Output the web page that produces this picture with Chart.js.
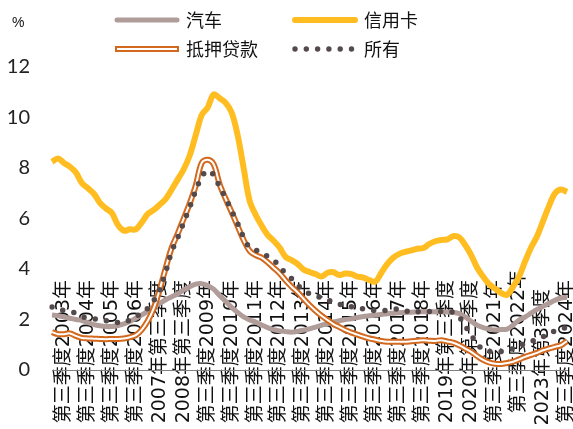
<!DOCTYPE html>
<html>
<head>
<meta charset="utf-8">
<script src="https://cdn.jsdelivr.net/npm/chart.js@4/dist/chart.umd.min.js"></script>
<style>
  html, body { margin: 0; padding: 0; background: #fff; }
  #wrap { width: 573px; height: 429px; position: relative; }
</style>
</head>
<body>
<div id="wrap"><canvas id="chart" width="573" height="429"></canvas></div>
<script>
// Quarterly categories, 2003 Q1 .. 2024 Q3
const years = [2003, 2004, 2005, 2006, 2007, 2008, 2009, 2010, 2011, 2012, 2013,
  2014, 2015, 2016, 2017, 2018, 2019, 2020, 2021, 2022, 2023, 2024];
const quarterNames = ["第一季度", "第二季度", "第三季度", "第四季度"];
const categories = [];
years.forEach(y => quarterNames.forEach((q, i) => {
  if (y < 2024 || i < 3) categories.push(y + "年" + q);
}));

// Axis labels as they appear under each Q3 tick
const tickLabels = [
  "第三季度2003年", "第三季度2004年", "第三季度2005年", "第三季度2006年",
  "2007年第三季度", "2008年第三季度", "第三季度2009年", "第三季度2010年",
  "第三季度2011年", "第三季度2012年", "第三季度2013年", "第三季度2014年",
  "第三季度2015年", "第三季度2016年", "第三季度2017年", "第三季度2018年",
  "2019年第三季度", "2020年第三季度", "第三季度2021年", "第三季度2022年",
  "2023年第3季度", "第三季度2024年"
];
const yTicks = [0, 2, 4, 6, 8, 10, 12];

// Series values (%)
const auto = [
  2.18, 2.15, 2.1, 2.05, 2.0, 1.96, 1.88, 1.8, 1.75, 1.72,
  1.72, 1.76, 1.83, 1.92, 2.05, 2.18, 2.33, 2.5, 2.64, 2.78,
  2.9, 3.02, 3.17, 3.3, 3.4, 3.42, 3.35, 3.2, 2.95, 2.72,
  2.48, 2.28, 2.1, 1.98, 1.9, 1.78, 1.68, 1.6, 1.55, 1.52,
  1.5, 1.53, 1.58, 1.63, 1.7, 1.77, 1.84, 1.9, 1.95, 2.0,
  2.03, 2.08, 2.12, 2.15, 2.18, 2.2, 2.23, 2.25, 2.27, 2.28,
  2.29, 2.3, 2.31, 2.31, 2.31, 2.31, 2.3, 2.28, 2.23, 2.1,
  1.93, 1.77, 1.68, 1.62, 1.58, 1.6, 1.62, 1.78, 1.98, 2.1,
  2.25, 2.4, 2.52, 2.64, 2.76, 2.85, 2.88
];
const creditCard = [
  8.24, 8.38, 8.2, 8.05, 7.82, 7.4, 7.2, 6.98, 6.62, 6.4,
  6.22, 5.75, 5.52, 5.57, 5.57, 5.85, 6.18, 6.34, 6.55, 6.78,
  7.15, 7.55, 7.95, 8.5, 9.3, 10.1, 10.4, 10.92, 10.76, 10.58,
  10.2, 9.3, 8.0, 6.7, 6.15, 5.72, 5.35, 5.12, 4.85, 4.48,
  4.35, 4.2, 3.98, 3.88, 3.8, 3.7, 3.85, 3.87, 3.76, 3.82,
  3.8, 3.7, 3.66, 3.56, 3.5, 3.85, 4.2, 4.45, 4.6, 4.68,
  4.74, 4.8, 4.83, 4.99, 5.1, 5.15, 5.17, 5.3, 5.25, 4.95,
  4.55, 4.05, 3.7, 3.4, 3.22, 3.05, 2.98, 3.3, 3.7, 4.3,
  4.85, 5.3, 5.9, 6.5, 7.0, 7.15, 7.05
];
const mortgage = [
  1.5, 1.42, 1.42, 1.45, 1.35, 1.27, 1.25, 1.24, 1.23, 1.22,
  1.23, 1.23, 1.25, 1.3, 1.38, 1.6, 1.95, 2.45, 3.2, 4.05,
  4.85, 5.4, 6.0, 6.6, 7.3, 8.2, 8.33, 8.15, 7.35, 6.78,
  6.25, 5.7, 5.15, 4.72, 4.55, 4.45, 4.27, 4.05, 3.83, 3.55,
  3.3, 3.08, 2.82, 2.57, 2.35, 2.15, 1.98, 1.82, 1.7, 1.58,
  1.48, 1.4, 1.32, 1.25, 1.2, 1.15, 1.12, 1.12, 1.12, 1.12,
  1.14, 1.16, 1.18, 1.16, 1.15, 1.18, 1.13, 1.08, 0.98, 0.85,
  0.72, 0.55, 0.4, 0.3, 0.25, 0.24, 0.28, 0.33, 0.42, 0.52,
  0.6, 0.68, 0.78, 0.85, 0.92, 0.98, 1.15
];
const allLoans = [
  2.5, 2.42, 2.35, 2.3, 2.25, 2.12, 2.05, 2.03, 2.0, 1.95,
  1.9, 1.88, 1.87, 1.98, 2.12, 2.25, 2.45, 2.75, 3.2, 3.9,
  4.7, 5.25, 5.85, 6.45, 7.1, 7.65, 7.9, 7.72, 7.25, 6.8,
  6.3, 5.8, 5.25, 4.85, 4.75, 4.65, 4.5, 4.35, 4.1, 3.82,
  3.62, 3.35, 3.2, 3.02, 2.95, 2.85, 2.78, 2.68, 2.6, 2.55,
  2.5, 2.45, 2.42, 2.38, 2.35, 2.35, 2.36, 2.4, 2.42, 2.35,
  2.27, 2.3, 2.32, 2.32, 2.32, 2.32, 2.31, 2.28, 2.1, 1.75,
  1.38, 1.05, 0.8, 0.74, 0.72, 0.73, 0.76, 0.85, 0.95, 1.05,
  1.13, 1.22, 1.32, 1.45, 1.55, 1.63, 1.68
];

const GRAY = "#b09c99";
const GOLD = "#ffbd21";
const ORANGE = "#d2691e";
const DOTS = "#54494b";
const LABEL_FONT = '19px "DejaVu Sans", "Noto Sans CJK SC", sans-serif';
const CJK_FONT = '18px "Noto Sans CJK SC", sans-serif';

// Rotated category labels, drawn under the axis line and the series
const xLabelsPlugin = {
  id: "xLabels",
  beforeDraw(chart) {
    const ctx = chart.ctx;
    const x = chart.scales.x;
    const nudge = { 19: -10, 20: 9 };
    ctx.save();
    ctx.fillStyle = "#fff";
    ctx.fillRect(0, 0, chart.width, chart.height);
    ctx.fillStyle = "#111";
    ctx.font = LABEL_FONT;
    ctx.textAlign = "right";
    ctx.textBaseline = "middle";
    tickLabels.forEach((t, k) => {
      const px = x.getPixelForValue(2 + k * 4);
      ctx.save();
      ctx.translate(px, 280 + (nudge[k] || 0));
      ctx.rotate(-Math.PI / 2);
      ctx.fillText(t, 0, 0);
      ctx.restore();
    });
    ctx.restore();
  }
};

// Two-column legend and the % unit
const legendPlugin = {
  id: "legendGrid",
  afterDraw(chart) {
    const ctx = chart.ctx;
    const items = [
      { text: "汽车", x: 115, y: 20, kind: "gray" },
      { text: "信用卡", x: 293, y: 20, kind: "gold" },
      { text: "抵押贷款", x: 115, y: 49, kind: "double" },
      { text: "所有", x: 293, y: 49, kind: "dots" }
    ];
    ctx.save();
    items.forEach(it => {
      ctx.beginPath();
      ctx.lineCap = "round";
      if (it.kind === "gray" || it.kind === "gold") {
        ctx.strokeStyle = it.kind === "gray" ? GRAY : GOLD;
        ctx.lineWidth = it.kind === "gray" ? 5 : 6;
        ctx.moveTo(it.x + 2, it.y);
        ctx.lineTo(it.x + 62, it.y);
        ctx.stroke();
      } else if (it.kind === "double") {
        ctx.lineCap = "butt";
        ctx.strokeStyle = ORANGE;
        ctx.lineWidth = 6;
        ctx.moveTo(it.x, it.y);
        ctx.lineTo(it.x + 64, it.y);
        ctx.stroke();
        ctx.beginPath();
        ctx.strokeStyle = "#fff";
        ctx.lineWidth = 2;
        ctx.moveTo(it.x + 2, it.y);
        ctx.lineTo(it.x + 62, it.y);
        ctx.stroke();
      } else {
        ctx.fillStyle = DOTS;
        for (let d = 0; d < 6; d++) {
          ctx.beginPath();
          ctx.arc(it.x + 2 + d * 11.3, it.y, 2.7, 0, Math.PI * 2);
          ctx.fill();
        }
      }
      ctx.fillStyle = "#111";
      ctx.font = CJK_FONT;
      ctx.textAlign = "left";
      ctx.textBaseline = "middle";
      ctx.fillText(it.text, it.x + 71, it.y);
    });
    ctx.font = '14px "Liberation Sans", sans-serif';
    ctx.fillText("%", 12, 23);
    ctx.restore();
  }
};

const lineBase = { pointRadius: 0, tension: 0.35, fill: false, borderJoinStyle: "round" };

new Chart(document.getElementById("chart"), {
  type: "line",
  data: {
    labels: categories,
    datasets: [
      Object.assign({ label: "所有", data: allLoans, borderColor: DOTS, borderWidth: 5.5,
        borderDash: [0, 11.3], borderCapStyle: "round", order: 1 }, lineBase),
      Object.assign({ label: "抵押贷款-inner", data: mortgage, borderColor: "#fff",
        borderWidth: 2, order: 2 }, lineBase),
      Object.assign({ label: "抵押贷款", data: mortgage, borderColor: ORANGE,
        borderWidth: 6, order: 3 }, lineBase),
      Object.assign({ label: "信用卡", data: creditCard, borderColor: GOLD,
        borderWidth: 6, order: 4 }, lineBase),
      Object.assign({ label: "汽车", data: auto, borderColor: GRAY,
        borderWidth: 5, order: 5 }, lineBase)
    ]
  },
  options: {
    responsive: false,
    animation: false,
    devicePixelRatio: 1,
    layout: { padding: { top: 67, right: 6, left: 0, bottom: 0 } },
    plugins: { legend: { display: false }, tooltip: { enabled: false } },
    scales: {
      x: {
        type: "category",
        offset: false,
        grid: { display: false, drawTicks: false },
        border: { display: true, color: "#7f7f7f", width: 1 },
        ticks: { display: false },
        afterFit: s => { s.height = 59; }
      },
      y: {
        min: 0,
        max: 12,
        afterBuildTicks: s => { s.ticks = yTicks.map(v => ({ value: v })); },
        grid: { display: false, drawTicks: false },
        border: { display: false },
        ticks: {
          padding: 22,
          color: "#222",
          font: { family: "Lato", size: 20 }
        },
        afterFit: s => { s.width = 52; }
      }
    }
  },
  plugins: [xLabelsPlugin, legendPlugin]
});
</script>
</body>
</html>
